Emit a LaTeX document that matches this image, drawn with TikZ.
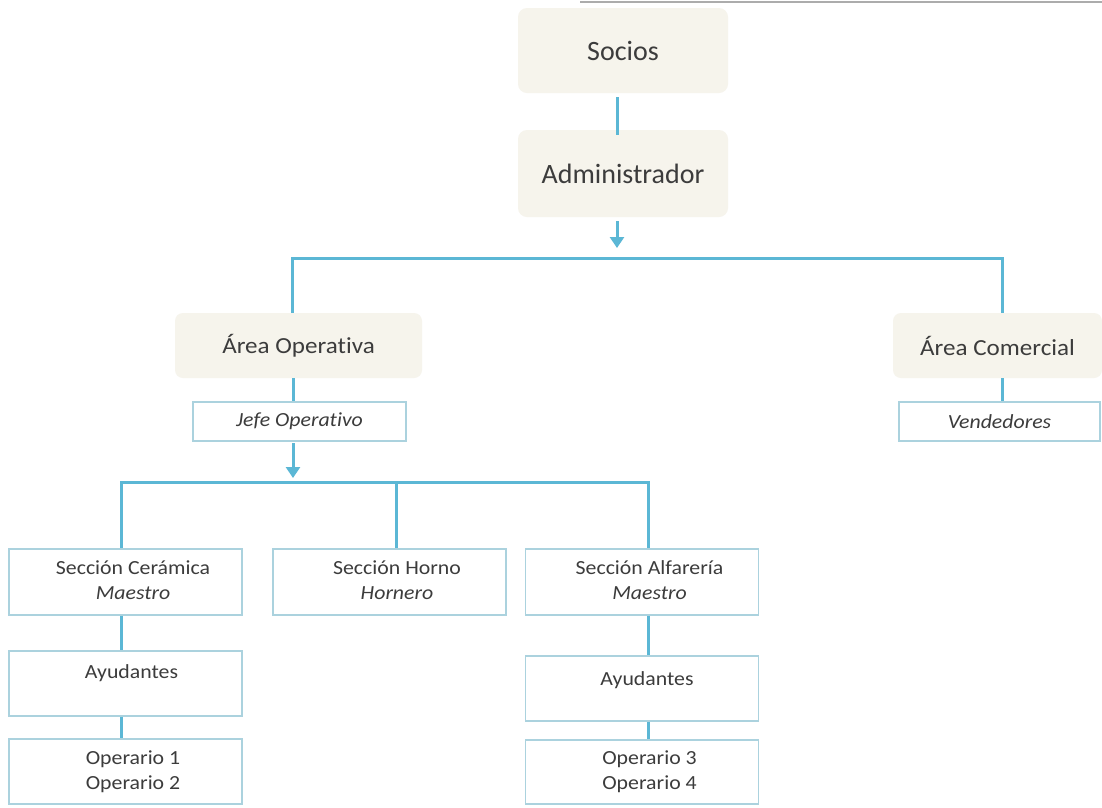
\documentclass[tikz,border=0pt]{standalone}
\usepackage{fontspec}
\setmainfont[Ligatures=NoCommon]{Carlito}
\newfontfamily\widefont[Ligatures=NoCommon,FakeStretch=1.09]{Carlito}
\usetikzlibrary{arrows.meta}
\definecolor{linec}{HTML}{5BB7D5}
\definecolor{boxc}{HTML}{ABD2DE}
\definecolor{beige}{HTML}{F6F4EC}
\definecolor{txt}{HTML}{3C3C3C}
\newcommand{\twol}[2]{\hspace*{15pt}\raisebox{-2.5pt}{\begin{tabular}{@{}c@{}}#1\\#2\end{tabular}}}
\begin{document}
\begin{tikzpicture}[x=1pt,y=-1pt,
  topbox/.style={fill=beige,rounded corners=9pt,minimum width=210pt,font=\fontsize{28}{32}\selectfont,text=txt,inner sep=0pt},
  areabox/.style={fill=beige,rounded corners=8pt,minimum height=65pt,font=\widefont\fontsize{23}{27}\selectfont,text=txt,inner sep=0pt},
  rolebox/.style={draw=boxc,line width=1.3pt,minimum height=39pt,font=\widefont\fontsize{20}{24}\selectfont\itshape,text=txt,inner sep=0pt},
  secbox/.style={draw=boxc,line width=1.6pt,minimum width=233pt,font=\widefont\fontsize{20}{25}\selectfont,text=txt,inner sep=0pt},
  lbl/.style={font=\widefont\fontsize{20}{25}\selectfont,text=txt,inner sep=0pt},
  conn/.style={draw=linec,line width=3pt},
  arr/.style={draw=linec,line width=3pt,-{Triangle[width=14pt,length=11pt]}}]
\useasboundingbox (0,0) rectangle (1102,807);
\fill[white] (0,0) rectangle (1102,807);
\draw[gray!65,line width=2pt] (580,2) -- (1102,2);
% top
\node[topbox,minimum height=85pt] (soc) at (623,50.5) {Socios};
\node[topbox,minimum height=87pt] (adm) at (623,173.5) {Administrador};
\draw[conn] (soc.south -| 617,0) ++(0,4) -- ([yshift=-5pt]adm.north -| 617,0);
\coordinate (a1s) at (617,221);
\coordinate (a1e) at (617,248);
\draw[arr] (a1s) -- (a1e);
\coordinate (h1l) at (292,258);
\coordinate (h1r) at (1002,258);
% areas
\node[areabox,minimum width=247pt] (aop) at (298.5,345.5) {Área Operativa};
\node[areabox,minimum width=209pt] (aco) at (997.5,345.5) {Área Comercial};
\draw[conn] (aop.north -| h1l) -- (h1l) -- (h1r) -- (aco.north -| h1r);
\node[rolebox,minimum width=213pt] (jefe) at (299.5,421.5) {Jefe Operativo};
\node[rolebox,minimum width=201pt] (vend) at (999.5,421.5) {Vendedores};
\draw[conn] (aop.south -| 293,0) -- (jefe.north -| 293,0);
\draw[conn] (aco.south -| 1002,0) -- (vend.north -| 1002,0);
\coordinate (a2s) at (293,443);
\coordinate (a2e) at (293,478);
\draw[arr] (a2s) -- (a2e);
% sections
\node[secbox,minimum height=66pt] (cer) at (125.5,582) {\twol{Sección Cerámica}{\textit{Maestro}}};
\node[secbox,minimum height=66pt] (hor) at (389.5,582) {\twol{Sección Horno}{\textit{Hornero}}};
\node[secbox,minimum height=66pt] (alf) at (642,582) {\twol{Sección Alfarería}{\textit{Maestro}}};
\coordinate (h2l) at (121,482);
\coordinate (h2m) at (396,482);
\coordinate (h2r) at (648,482);
\draw[conn] (cer.north -| h2l) -- (h2l) -- (h2r) -- (alf.north -| h2r);
\draw[conn] (h2m) -- (hor.north -| h2m);
% left column
\node[secbox,minimum height=65pt] (ay1) at (125.5,683.5) {};
\node[lbl] (ay1t) at (131.5,673) {Ayudantes};
\node[secbox,minimum height=65pt] (op1) at (125.5,771.5) {\twol{Operario 1}{Operario 2}};
\draw[conn] (cer.south -| h2l) -- (ay1.north -| h2l);
\draw[conn] (ay1.south -| h2l) -- (op1.north -| h2l);
% right column
\node[secbox,minimum height=65pt] (ay2) at (642,688.5) {};
\node[lbl] (ay2t) at (647,680) {Ayudantes};
\node[secbox,minimum height=64pt] (op2) at (642,772) {\twol{Operario 3}{Operario 4}};
\draw[conn] (alf.south -| h2r) -- (ay2.north -| h2r);
\draw[conn] (ay2.south -| h2r) -- (op2.north -| h2r);
\end{tikzpicture}
\end{document}
